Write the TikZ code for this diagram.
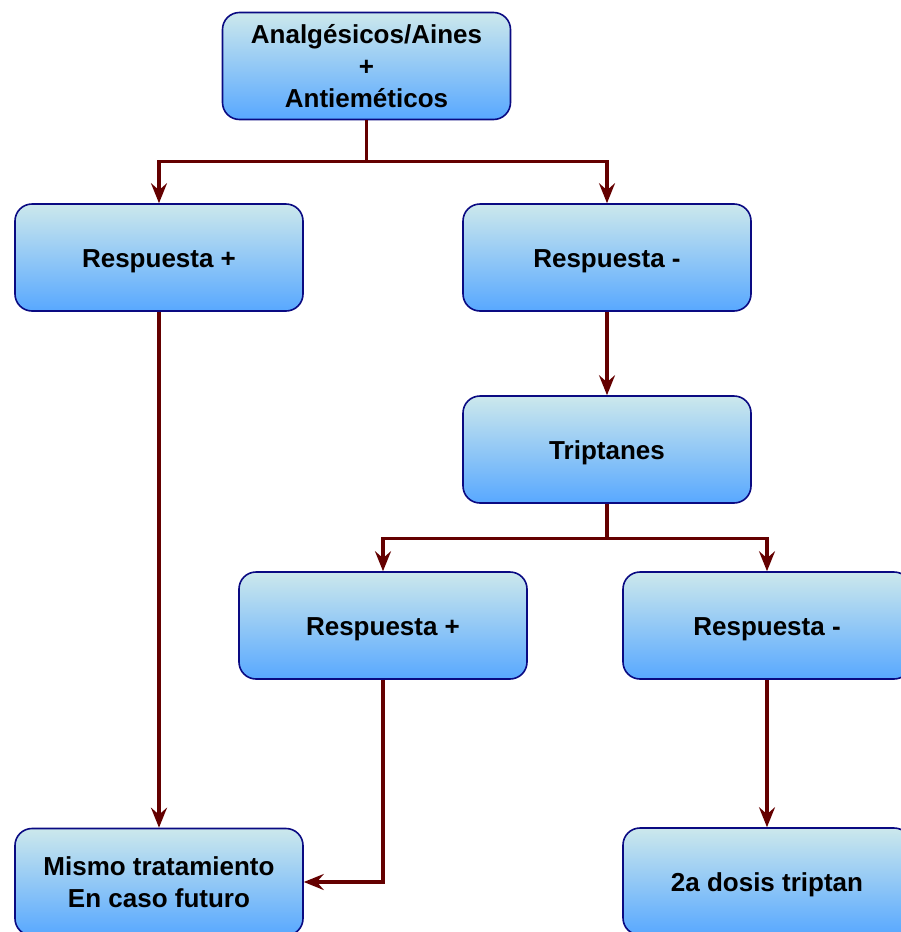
\documentclass[tikz,border=0pt]{standalone}
\usepackage{fontspec}
\setmainfont{Liberation Sans}
\usetikzlibrary{arrows.meta}

\definecolor{borde}{RGB}{10,10,130}
\definecolor{vino}{RGB}{100,0,0}
\definecolor{arriba}{RGB}{204,232,236}
\definecolor{abajo}{RGB}{88,168,255}

\tikzset{
  caja/.style={draw=borde,line width=1.6pt,rounded corners=17pt,
    top color=arriba,bottom color=abajo,minimum width=288pt,minimum height=107pt,
    align=center,font=\fontsize{26}{32}\selectfont\bfseries},
  cajauna/.style={caja,text height=25pt,text depth=5.5pt},
  linea/.style={draw=vino,line width=3.2pt},
  flecha/.style={linea,-{Stealth[length=20pt,width=16pt,inset=7pt]}}
}

\begin{document}
\begin{tikzpicture}[x=1pt,y=-1pt]
            \useasboundingbox (0,0) rectangle (900,932);
            \node[caja] (inicio) at (366.5,66) {Analgésicos/Aines\\+\\Antieméticos};
            \node[cajauna] (resp1) at (159,257.5) {Respuesta +};
            \node[cajauna] (resp2) at (607,257.5) {Respuesta -};
            \node[cajauna] (tript) at (607,449.5) {Triptanes};
            \node[cajauna] (resp3) at (383,625.5) {Respuesta +};
            \node[cajauna] (resp4) at (767,625.5) {Respuesta -};
            \node[caja] (mismo) at (159,882) {Mismo tratamiento\\En caso futuro};
            \node[cajauna] (dosis) at (767,881.5) {2a dosis triptan};
            \draw[linea] (inicio.south) -- ++(0,41) coordinate (rama1);
            \draw[flecha] (rama1) -| (resp1.north);
            \draw[flecha] (rama1) -| (resp2.north);
            \draw[flecha] (resp2) -- (tript);
            \draw[linea] (tript.south) -- ++(0,35) coordinate (rama2);
            \draw[flecha] (rama2) -| (resp3.north);
            \draw[flecha] (rama2) -| (resp4.north);
            \draw[flecha] (resp1) -- (mismo);
            \draw[flecha] (resp3.south) |- (mismo.east);
            \draw[flecha] (resp4) -- (dosis);
        \end{tikzpicture}
\end{document}
